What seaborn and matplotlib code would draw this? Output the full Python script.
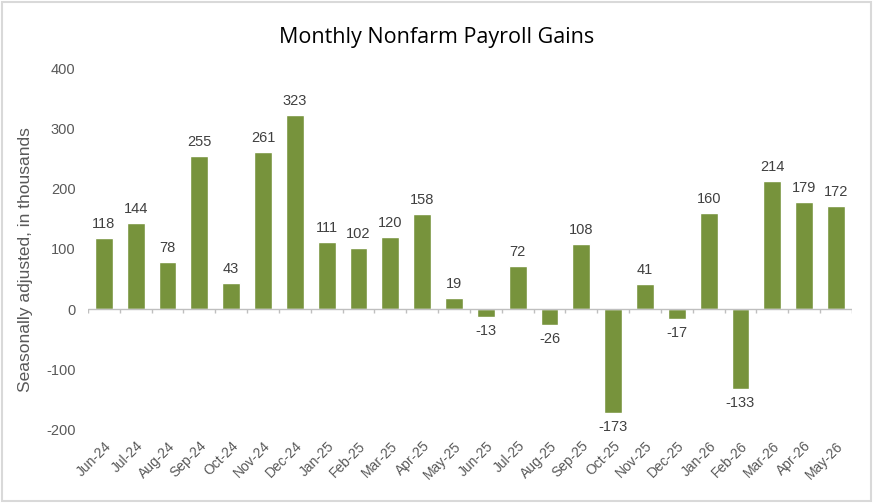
import numpy as np
import pandas as pd
import seaborn as sb
import matplotlib.pyplot as plt
from matplotlib.patches import Rectangle

# podaci ocitani sa slike
months = ['Jun-24', 'Jul-24', 'Aug-24', 'Sep-24', 'Oct-24', 'Nov-24', 'Dec-24', 'Jan-25',
          'Feb-25', 'Mar-25', 'Apr-25', 'May-25', 'Jun-25', 'Jul-25', 'Aug-25', 'Sep-25',
          'Oct-25', 'Nov-25', 'Dec-25', 'Jan-26', 'Feb-26', 'Mar-26', 'Apr-26', 'May-26']
gains = [118, 144, 78, 255, 43, 261, 323, 111, 102, 120, 158, 19,
         -13, 72, -26, 108, -173, 41, -17, 160, -133, 214, 179, 172]
yticks = [-200, -100, 0, 100, 200, 300, 400]

df = pd.DataFrame({'month': months, 'gain': gains})

sb.set_style('white')
plt.rcParams['font.family'] = ['Liberation Sans', 'DejaVu Sans']
plt.rcParams['axes.unicode_minus'] = False

fig = plt.figure(figsize=(8.74, 5.03), dpi=100)
ax = fig.add_axes([0.1007, 0.147, 0.874, 0.716])

sb.barplot(data=df, x='month', y='gain', order=months, color='#77933C',
           width=0.56, saturation=1, ax=ax)

ax.set_ylim(-200, 400)
ax.set_yticks(yticks)
ax.set_xlim(-0.5, len(months) - 0.5)
for s in ax.spines.values():
    s.set_visible(False)

# nulta linija s crticama izmedu kategorija
ax.axhline(0, color='#BFBFBF', lw=1, zorder=1)
ax.vlines(np.arange(-0.5, len(months)), 0, -7, color='#BFBFBF', lw=1, zorder=1)

# oznake vrijednosti
for i, v in enumerate(gains):
    if v >= 0:
        ax.annotate(str(v), (i, v), xytext=(0, 5), textcoords='offset points',
                    ha='center', va='bottom', fontsize=10.5, color='#404040')
    else:
        ax.annotate(str(v), (i, v), xytext=(0, -5), textcoords='offset points',
                    ha='center', va='top', fontsize=10.5, color='#404040')

ax.tick_params(axis='both', length=0, labelsize=10.5, labelcolor='#595959')
ax.tick_params(axis='y', pad=9)
ax.tick_params(axis='x', pad=7, labelsize=10)
plt.setp(ax.get_xticklabels(), rotation=45, ha='right', rotation_mode='anchor')
ax.set_xlabel('')
ax.set_ylabel('Seasonally adjusted, in thousands', fontsize=12.5, color='#595959')
ax.yaxis.set_label_coords(-0.072, 0.472)

fig.text(0.5, 0.926, 'Monthly Nonfarm Payroll Gains', ha='center', va='center',
         fontsize=15.5, color='#000000', family=['Open Sans', 'DejaVu Sans'])

# okvir grafikona
fig.patches.append(Rectangle((0.002, 0.004), 0.994, 0.992, transform=fig.transFigure,
                             fill=False, edgecolor='#D9D9D9', lw=1.5))

fig.savefig('out.png', dpi=100)
